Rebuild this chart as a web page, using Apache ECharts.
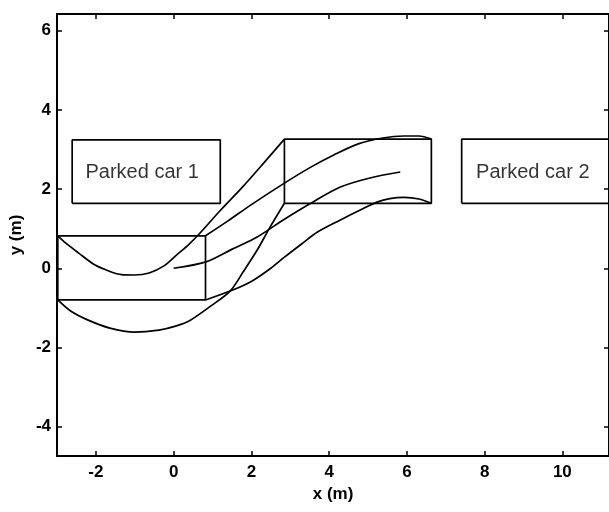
<!DOCTYPE html>
<html><head><meta charset="utf-8">
<script src="https://cdn.jsdelivr.net/npm/echarts@6/dist/echarts.min.js"></script>
<style>html,body{margin:0;padding:0;background:#fff}#c{width:609px;height:512px}</style>
</head><body><div id="c"></div>
<script>
const xTickValues = [-2, 0, 2, 4, 6, 8, 10];
const yTickValues = [-4, -2, 0, 2, 4, 6];
const xLimits = [-3, 11.2];
const yLimits = [-4.74, 6.42];

const initialCar = [[-2.98,-0.8],[0.82,-0.8],[0.82,0.82],[-2.98,0.82],[-2.98,-0.8]];
const finalCar = [[2.85,1.64],[6.63,1.64],[6.63,3.26],[2.85,3.26],[2.85,1.64]];
const parkedCar1 = [[-2.61,1.64],[1.2,1.64],[1.2,3.24],[-2.61,3.24],[-2.61,1.64]];
const parkedCar2 = [[7.41,1.64],[11.2,1.64],[11.2,3.26],[7.41,3.26],[7.41,1.64]];

const rearLeftPath = [[-2.98,0.82],[-2.78,0.64],[-2.45,0.39],[-2.02,0.08],[-1.64,-0.08],[-1.34,-0.16],[-1.01,-0.17],[-0.63,-0.12],[-0.25,0.06],[0.08,0.34],[0.38,0.59],[0.68,0.89],[1.21,1.47],[1.77,2.05],[2.32,2.66],[2.85,3.26]];
const rearRightPath = [[-2.98,-0.8],[-2.65,-1.08],[-2.2,-1.31],[-1.64,-1.51],[-1.01,-1.61],[-0.38,-1.56],[0.05,-1.46],[0.43,-1.31],[0.96,-0.95],[1.46,-0.57],[1.79,-0.09],[2.15,0.46],[2.47,1.02],[2.85,1.64]];
const frontLeftPath = [[0.82,0.82],[1.39,1.19],[2.02,1.62],[2.85,2.15],[3.54,2.56],[4.12,2.86],[4.75,3.14],[5.38,3.29],[5.93,3.34],[6.31,3.34],[6.63,3.26]];
const frontRightPath = [[0.82,-0.8],[1.52,-0.55],[2.02,-0.32],[2.5,0.0],[2.85,0.28],[3.3,0.62],[3.71,0.92],[4.29,1.22],[4.8,1.47],[5.23,1.67],[5.56,1.76],[5.93,1.79],[6.31,1.75],[6.63,1.64]];
const referencePath = [[0,0],[0.83,0.16],[1.52,0.49],[2.15,0.79],[2.85,1.24],[3.54,1.65],[4.29,2.05],[5.05,2.28],[5.83,2.43]];

const carLabels = [{name:'Parked car 1', value:[-0.81,2.41]},{name:'Parked car 2', value:[9.24,2.41]}];

const FONT = 'Liberation Sans, Arial, Helvetica, sans-serif';
const black = '#000';
const axisLine = {show:true, onZero:false, lineStyle:{color:black, width:2}};

function pathSeries(data, smooth) {
  return {type:'line', data:data, showSymbol:false, symbol:'none', smooth:smooth ? 0.3 : false,
    lineStyle:{color:black, width:1.7}, animation:false, z:3};
}

const chart = echarts.init(document.getElementById('c'), null, {renderer:'canvas'});
chart.setOption({
  backgroundColor:'#fff',
  animation:false,
  grid:{left:50, top:14, width:562.3, height:442, containLabel:false},
  xAxis:[
    {type:'value', min:xLimits[0], max:xLimits[1], position:'bottom', axisLine:axisLine,
     axisTick:{show:true, inside:true, length:5, customValues:xTickValues, lineStyle:{color:black, width:1.5}},
     axisLabel:{show:true, customValues:xTickValues, color:black, fontSize:17, fontWeight:'bold', fontFamily:FONT, margin:8},
     splitLine:{show:false},
     name:'x (m)', nameLocation:'middle', nameGap:29,
     nameTextStyle:{color:black, fontSize:17, fontWeight:'bold', fontFamily:FONT}},
    {type:'value', min:xLimits[0], max:xLimits[1], position:'top', axisLine:axisLine,
     axisTick:{show:true, inside:true, length:5, customValues:xTickValues, lineStyle:{color:black, width:1.5}},
     axisLabel:{show:false}, splitLine:{show:false}}
  ],
  yAxis:[
    {type:'value', min:yLimits[0], max:yLimits[1], position:'left', axisLine:axisLine,
     axisTick:{show:true, inside:true, length:5, customValues:yTickValues, lineStyle:{color:black, width:1.5}},
     axisLabel:{show:true, customValues:yTickValues, color:black, fontSize:17, fontWeight:'bold', fontFamily:FONT, margin:6},
     splitLine:{show:false},
     name:'y (m)', nameLocation:'middle', nameGap:26,
     nameTextStyle:{color:black, fontSize:17, fontWeight:'bold', fontFamily:FONT}},
    {type:'value', min:yLimits[0], max:yLimits[1], position:'right', axisLine:axisLine,
     axisTick:{show:true, inside:true, length:5, customValues:yTickValues, lineStyle:{color:black, width:1.5}},
     axisLabel:{show:false}, splitLine:{show:false}}
  ],
  series:[
    pathSeries(parkedCar1, false),
    pathSeries(parkedCar2, false),
    pathSeries(initialCar, false),
    pathSeries(finalCar, false),
    pathSeries(rearLeftPath, true),
    pathSeries(rearRightPath, true),
    pathSeries(frontLeftPath, true),
    pathSeries(frontRightPath, true),
    pathSeries(referencePath, true),
    {type:'scatter', data:carLabels, symbolSize:0, animation:false, silent:true,
     label:{show:true, position:'inside', formatter:function(p){return p.name;},
       color:black, fontSize:20, fontFamily:FONT}}
  ]
});
</script>
</body></html>
